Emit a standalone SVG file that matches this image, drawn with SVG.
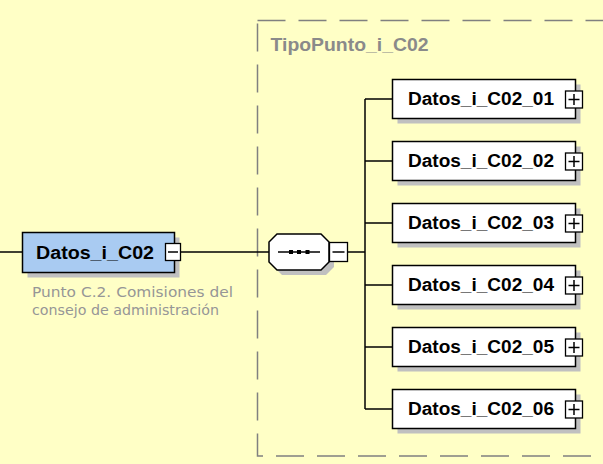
<svg xmlns="http://www.w3.org/2000/svg" width="603" height="464" viewBox="0 0 603 464">
<style>
.ln{stroke:#000;stroke-width:1.5;fill:none}
.box{fill:#fff;stroke:#000;stroke-width:1.5}
.sh{fill:#c0c0c0}
.lbl{font-family:"Liberation Sans",Arial,sans-serif;font-weight:bold;font-size:18px;fill:#000}
.btn{fill:#fff;stroke:#000;stroke-width:1.3}
.sgn{stroke:#000;stroke-width:1.5}
.desc{font-family:Tahoma,"DejaVu Sans",sans-serif;font-size:13.5px;fill:#969696}
</style>
<defs>
<g id="plus">
<rect class="btn" x="0" y="0" width="17" height="17"/>
<line class="sgn" x1="3" y1="8.5" x2="14" y2="8.5"/>
<line class="sgn" x1="8.5" y1="3" x2="8.5" y2="14"/>
</g>
</defs>
<rect x="0" y="0" width="603" height="464" fill="#ffffc6"/>
<g id="TipoPunto_i_C02">
<rect x="257.5" y="20.5" width="400" height="435.5" fill="none" stroke="#808080" stroke-width="1.5" stroke-dasharray="28 13"/>
<text x="270.5" y="51" font-family="'Liberation Sans',Arial,sans-serif" font-weight="bold" font-size="17.5" fill="#8a8a8a" textLength="158" lengthAdjust="spacingAndGlyphs">TipoPunto_i_C02</text>
</g>
<g id="connectors">
<line class="ln" x1="0" y1="252" x2="22.5" y2="252"/>
<line class="ln" x1="180.5" y1="252" x2="269" y2="252"/>
<line class="ln" x1="347.5" y1="252" x2="365" y2="252"/>
<line class="ln" x1="365" y1="99" x2="365" y2="409"/>
<line class="ln" x1="365" y1="99" x2="392" y2="99"/>
<line class="ln" x1="365" y1="161" x2="392" y2="161"/>
<line class="ln" x1="365" y1="223" x2="392" y2="223"/>
<line class="ln" x1="365" y1="285" x2="392" y2="285"/>
<line class="ln" x1="365" y1="347" x2="392" y2="347"/>
<line class="ln" x1="365" y1="409" x2="392" y2="409"/>
</g>
<g id="Datos_i_C02">
<rect class="sh" x="27.5" y="237.5" width="152" height="40"/>
<rect x="22.5" y="232.5" width="152" height="40" fill="#a9cbf2" stroke="#000" stroke-width="1.5"/>
<text class="lbl" x="36" y="258.5" textLength="118" lengthAdjust="spacingAndGlyphs">Datos_i_C02</text>
<rect class="btn" x="165.5" y="243.5" width="15" height="17"/>
<line class="sgn" x1="168" y1="252" x2="178" y2="252"/>
<text class="desc" x="32" y="297" textLength="201" lengthAdjust="spacingAndGlyphs">Punto C.2. Comisiones del</text>
<text class="desc" x="32" y="315" textLength="187" lengthAdjust="spacingAndGlyphs">consejo de administración</text>
</g>
<g id="sequence">
<polygon class="sh" points="282,239 326,239 334,247 334,267 326,275 282,275 274,267 274,247"/>
<polygon class="box" points="277,234 321,234 329,242 329,262 321,270 277,270 269,262 269,242"/>
<line class="ln" x1="278" y1="252" x2="320" y2="252"/>
<rect x="289" y="250" width="4" height="4" fill="#000"/>
<rect x="297" y="250" width="4" height="4" fill="#000"/>
<rect x="305.5" y="250" width="4" height="4" fill="#000"/>
<rect class="btn" x="329.5" y="242.5" width="18" height="19"/>
<line class="sgn" x1="332.5" y1="252" x2="344.5" y2="252"/>
</g>
<g id="Datos_i_C02_01">
<rect class="sh" x="397.5" y="84.5" width="183" height="39"/>
<rect class="box" x="392.5" y="79.5" width="183" height="39"/>
<text class="lbl" x="408" y="104.5" textLength="146" lengthAdjust="spacingAndGlyphs">Datos_i_C02_01</text>
<use href="#plus" x="565.5" y="91"/>
</g>
<g id="Datos_i_C02_02">
<rect class="sh" x="397.5" y="146.5" width="183" height="39"/>
<rect class="box" x="392.5" y="141.5" width="183" height="39"/>
<text class="lbl" x="408" y="166.5" textLength="146" lengthAdjust="spacingAndGlyphs">Datos_i_C02_02</text>
<use href="#plus" x="565.5" y="153"/>
</g>
<g id="Datos_i_C02_03">
<rect class="sh" x="397.5" y="208.5" width="183" height="39"/>
<rect class="box" x="392.5" y="203.5" width="183" height="39"/>
<text class="lbl" x="408" y="228.5" textLength="146" lengthAdjust="spacingAndGlyphs">Datos_i_C02_03</text>
<use href="#plus" x="565.5" y="215"/>
</g>
<g id="Datos_i_C02_04">
<rect class="sh" x="397.5" y="270.5" width="183" height="39"/>
<rect class="box" x="392.5" y="265.5" width="183" height="39"/>
<text class="lbl" x="408" y="290.5" textLength="146" lengthAdjust="spacingAndGlyphs">Datos_i_C02_04</text>
<use href="#plus" x="565.5" y="277"/>
</g>
<g id="Datos_i_C02_05">
<rect class="sh" x="397.5" y="332.5" width="183" height="39"/>
<rect class="box" x="392.5" y="327.5" width="183" height="39"/>
<text class="lbl" x="408" y="352.5" textLength="146" lengthAdjust="spacingAndGlyphs">Datos_i_C02_05</text>
<use href="#plus" x="565.5" y="339"/>
</g>
<g id="Datos_i_C02_06">
<rect class="sh" x="397.5" y="394.5" width="183" height="39"/>
<rect class="box" x="392.5" y="389.5" width="183" height="39"/>
<text class="lbl" x="408" y="414.5" textLength="146" lengthAdjust="spacingAndGlyphs">Datos_i_C02_06</text>
<use href="#plus" x="565.5" y="401"/>
</g>
</svg>
